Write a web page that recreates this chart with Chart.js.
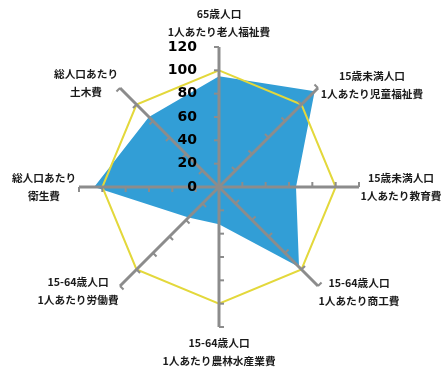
<!DOCTYPE html>
<html>
<head>
<meta charset="utf-8">
<script src="https://cdn.jsdelivr.net/npm/chart.js@4.4.0/dist/chart.umd.min.js"></script>
<style>
  html, body { margin: 0; padding: 0; background: #fff; }
  #wrap { width: 445px; height: 372px; }
</style>
</head>
<body>
<div id="wrap"><canvas id="radar"></canvas></div>
<script>
const labels = [
  ['65歳人口', '1人あたり老人福祉費'],
  ['15歳未満人口', '1人あたり児童福祉費'],
  ['15歳未満人口', '1人あたり教育費'],
  ['15-64歳人口', '1人あたり商工費'],
  ['15-64歳人口', '1人あたり農林水産業費'],
  ['15-64歳人口', '1人あたり労働費'],
  ['総人口あたり', '衛生費'],
  ['総人口あたり', '土木費']
];
const cityValues = [95, 116, 66, 97, 32, 37, 107, 85];
const baseValues = [100, 100, 100, 100, 100, 100, 100, 100];
const tickValues = [0, 20, 40, 60, 80, 100, 120];

const axisGray = '#8c8c8c';
// where each category label sits, relative to the end of its axis (x shift, y of first line)
const labelShift = [[0, -33], [54, -12], [42, -9], [41, -3], [0, 16], [-42, -4], [-35, -9], [-34, -14]];

// small tick marks on every axis, value labels left of the vertical axis, category labels
const axisTicks = {
  id: 'axisTicks',
  afterDraw(chart) {
    const r = chart.scales.r;
    const ctx = chart.ctx;
    ctx.save();
    ctx.strokeStyle = axisGray;
    ctx.lineWidth = 2;
    for (let i = 0; i < labels.length; i++) {
      const a = r.getIndexAngle(i) - Math.PI / 2;
      const px = Math.sin(a), py = -Math.cos(a);
      tickValues.forEach(v => {
        if (v === 0) return;
        const p = r.getPointPositionForValue(i, v);
        ctx.beginPath();
        ctx.moveTo(p.x, p.y);
        ctx.lineTo(p.x + px * 5, p.y + py * 5);
        ctx.stroke();
      });
    }
    ctx.fillStyle = '#000';
    ctx.font = 'bold 14px "DejaVu Sans"';
    ctx.textAlign = 'right';
    ctx.textBaseline = 'middle';
    tickValues.forEach(v => {
      const y = r.yCenter - r.getDistanceFromCenterForValue(v);
      ctx.fillText(String(v), r.xCenter - 22, y);
    });

    ctx.fillStyle = '#1a1a1a';
    ctx.font = 'bold 10.7px "Noto Sans CJK JP"';
    ctx.textAlign = 'center';
    labels.forEach((lines, i) => {
      const end = r.getPointPositionForValue(i, 120);
      const [dx, dy] = labelShift[i];
      lines.forEach((t, k) => ctx.fillText(t, end.x + dx, end.y + dy + k * 18));
    });
    ctx.restore();
  }
};

new Chart(document.getElementById('radar'), {
  type: 'radar',
  data: {
    labels: labels,
    datasets: [{
      data: baseValues,
      borderColor: '#e3d83b',
      borderWidth: 2,
      fill: false,
      pointRadius: 0,
      order: 0
    }, {
      data: cityValues,
      backgroundColor: '#329ed6',
      borderWidth: 0,
      fill: true,
      pointRadius: 0,
      order: 1
    }]
  },
  options: {
    responsive: true,
    maintainAspectRatio: false,
    animation: false,
    layout: { padding: { top: 47, bottom: 45, left: 0, right: 7 } },
    plugins: { legend: { display: false }, tooltip: { enabled: false } },
    scales: {
      r: {
        min: 0,
        max: 120,
        ticks: { stepSize: 20, display: false },
        grid: { display: false, z: 1 },
        angleLines: { color: axisGray, lineWidth: 3 },
        pointLabels: { display: false }
      }
    }
  },
  plugins: [axisTicks]
});
</script>
</body>
</html>
